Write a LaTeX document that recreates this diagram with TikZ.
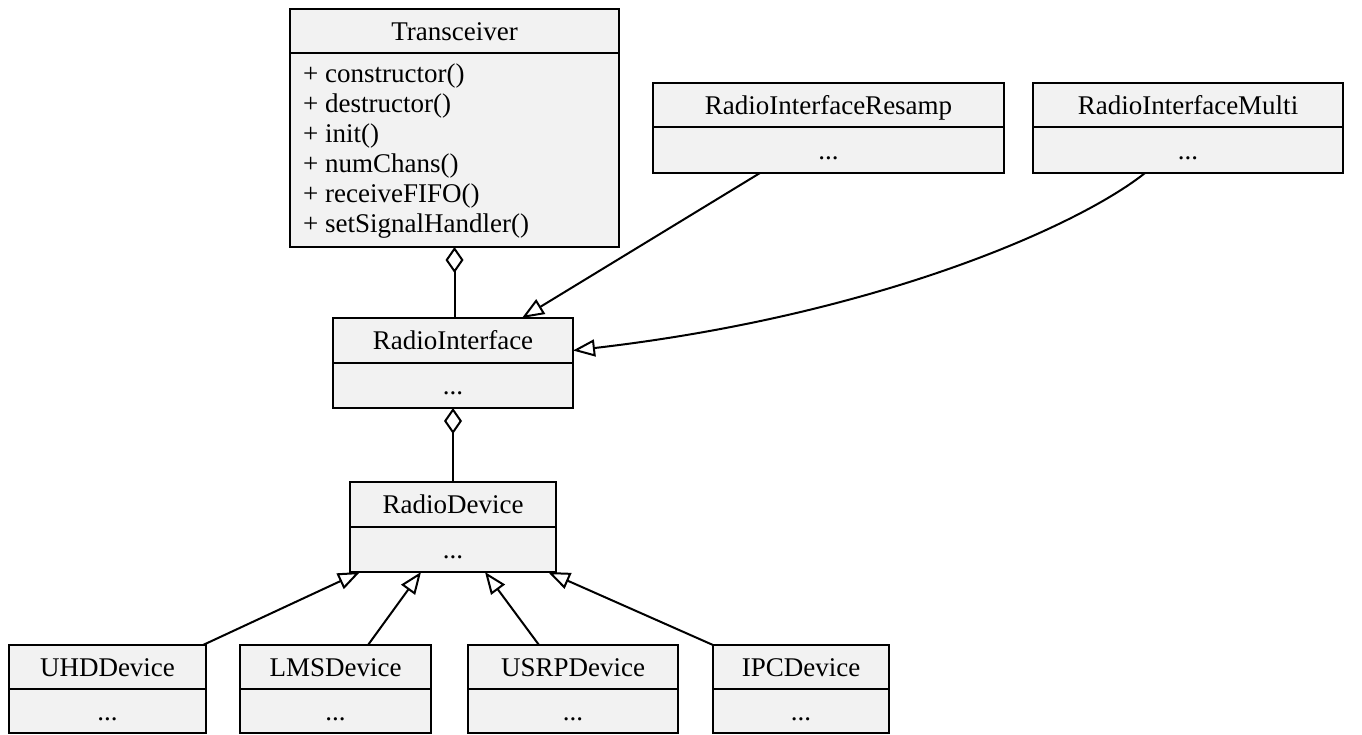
\documentclass[tikz,border=0pt]{standalone}
\usepackage{fontspec}
\setmainfont{Liberation Serif}
\usetikzlibrary{arrows.meta}
\definecolor{boxfill}{HTML}{F2F2F2}
\newcommand\umlfont{\fontsize{27}{29.5}\selectfont}
\tikzset{
  cls/.style={draw, fill=boxfill, line width=2pt, inner sep=0pt, outer sep=0pt, minimum height=45pt,
    text height=20pt, text depth=2pt, font=\umlfont, anchor=north},
  conn/.style={line width=2pt},
  inh/.style={conn, -{Triangle[open, length=22pt, width=17pt]}},
  agg/.style={conn, {Diamond[open, length=26pt, width=18pt]}-},
  meth/.style={font=\umlfont, anchor=base west, inner sep=0pt}
}
\begin{document}
\begin{tikzpicture}[x=1pt, y=-1pt]
\useasboundingbox (0,0) rectangle (1362,734);
% Transceiver
\node[cls, minimum width=329pt, minimum height=44pt] (tr) at (454.5,9) {Transceiver};
\node[cls, minimum width=329pt, minimum height=194pt] (trb) at (tr.south) {};
\foreach \t [count=\i] in {constructor(), destructor(), init(), numChans(), receiveFIFO(), setSignalHandler()}
  \node[meth] (m\i) at (303, {82+30*(\i-1)}) {+ \t};
% RadioInterfaceResamp
\node[cls, minimum width=351pt, minimum height=44pt] (rs) at (828.5,83) {RadioInterfaceResamp};
\node[cls, minimum width=351pt, minimum height=46pt] (rsb) at (rs.south) {...};
% RadioInterfaceMulti
\node[cls, minimum width=310pt, minimum height=44pt] (mu) at (1188,83) {RadioInterfaceMulti};
\node[cls, minimum width=310pt, minimum height=46pt] (mub) at (mu.south) {...};
% RadioInterface
\node[cls, minimum width=240pt] (ri) at (453,318) {RadioInterface};
\node[cls, minimum width=240pt] (rib) at (ri.south) {...};
% RadioDevice
\node[cls, minimum width=206pt] (rd) at (453,482) {RadioDevice};
\node[cls, minimum width=206pt] (rdb) at (rd.south) {...};
% Devices
\node[cls, minimum width=197pt, minimum height=44pt] (uhd) at (107.5,645) {UHDDevice};
\node[cls, minimum width=197pt, minimum height=44pt] (uhdb) at (uhd.south) {...};
\node[cls, minimum width=191pt, minimum height=44pt] (lms) at (335.5,645) {LMSDevice};
\node[cls, minimum width=191pt, minimum height=44pt] (lmsb) at (lms.south) {...};
\node[cls, minimum width=210pt, minimum height=44pt] (usrp) at (573,645) {USRPDevice};
\node[cls, minimum width=210pt, minimum height=44pt] (usrpb) at (usrp.south) {...};
\node[cls, minimum width=176pt, minimum height=44pt] (ipc) at (801,645) {IPCDevice};
\node[cls, minimum width=176pt, minimum height=44pt] (ipcb) at (ipc.south) {...};
% connectors
\draw[agg] (trb.south) -- (trb.south |- ri.north);
\draw[agg] (rib.south) -- (rd.north);
\draw[inh] ([xshift=-68.5pt]rsb.south) -- ([xshift=69pt]ri.north);
\draw[inh] ([xshift=-43pt]mub.south) .. controls (1080,225) and (880,315) .. ([yshift=-10pt]ri.east);
\draw[inh] ([xshift=95.5pt]uhd.north) -- ([xshift=-93pt]rdb.south);
\draw[inh] ([xshift=32.5pt]lms.north) -- ([xshift=-32pt]rdb.south);
\draw[inh] ([xshift=-34pt]usrp.north) -- ([xshift=32pt]rdb.south);
\draw[inh] ([xshift=-88pt]ipc.north) -- ([xshift=95pt]rdb.south);
\end{tikzpicture}
\end{document}
